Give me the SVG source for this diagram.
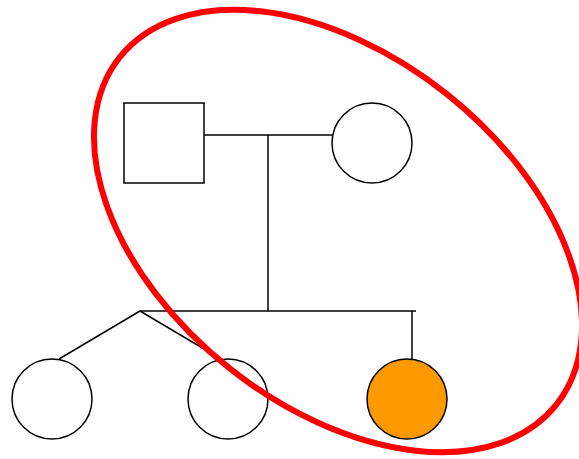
<svg xmlns="http://www.w3.org/2000/svg" width="579" height="459" viewBox="0 0 579 459">
<style>
.ln{fill:none;stroke:#000;stroke-width:1.5}
.nd{fill:#fff;stroke:#000;stroke-width:1.5}
.aff{fill:#FF9900;stroke:#000;stroke-width:1.5}
.ring{fill:none;stroke:#FF0000;stroke-width:6}
</style>
<rect width="579" height="459" fill="#fff"/>
<g id="connectors">
<line class="ln" x1="204" y1="135" x2="332" y2="135"/>
<line class="ln" x1="268" y1="135" x2="268" y2="311"/>
<line class="ln" x1="140" y1="311" x2="416" y2="311"/>
<line class="ln" x1="140" y1="311" x2="59" y2="359"/>
<line class="ln" x1="140" y1="311" x2="221" y2="359"/>
<line class="ln" x1="412" y1="311" x2="412" y2="359"/>
</g>
<g id="father"><rect class="nd" x="124" y="103" width="80" height="80"/></g>
<g id="mother"><circle class="nd" cx="372" cy="143" r="40"/></g>
<g id="child1"><circle class="nd" cx="52" cy="399" r="40"/></g>
<g id="child2"><circle class="nd" cx="228" cy="399" r="40"/></g>
<g id="child3"><circle class="aff" cx="407" cy="399" r="40"/></g>
<g id="highlight"><ellipse class="ring" cx="338" cy="231" rx="279" ry="175" transform="rotate(38.5 338 231)"/></g>
</svg>
